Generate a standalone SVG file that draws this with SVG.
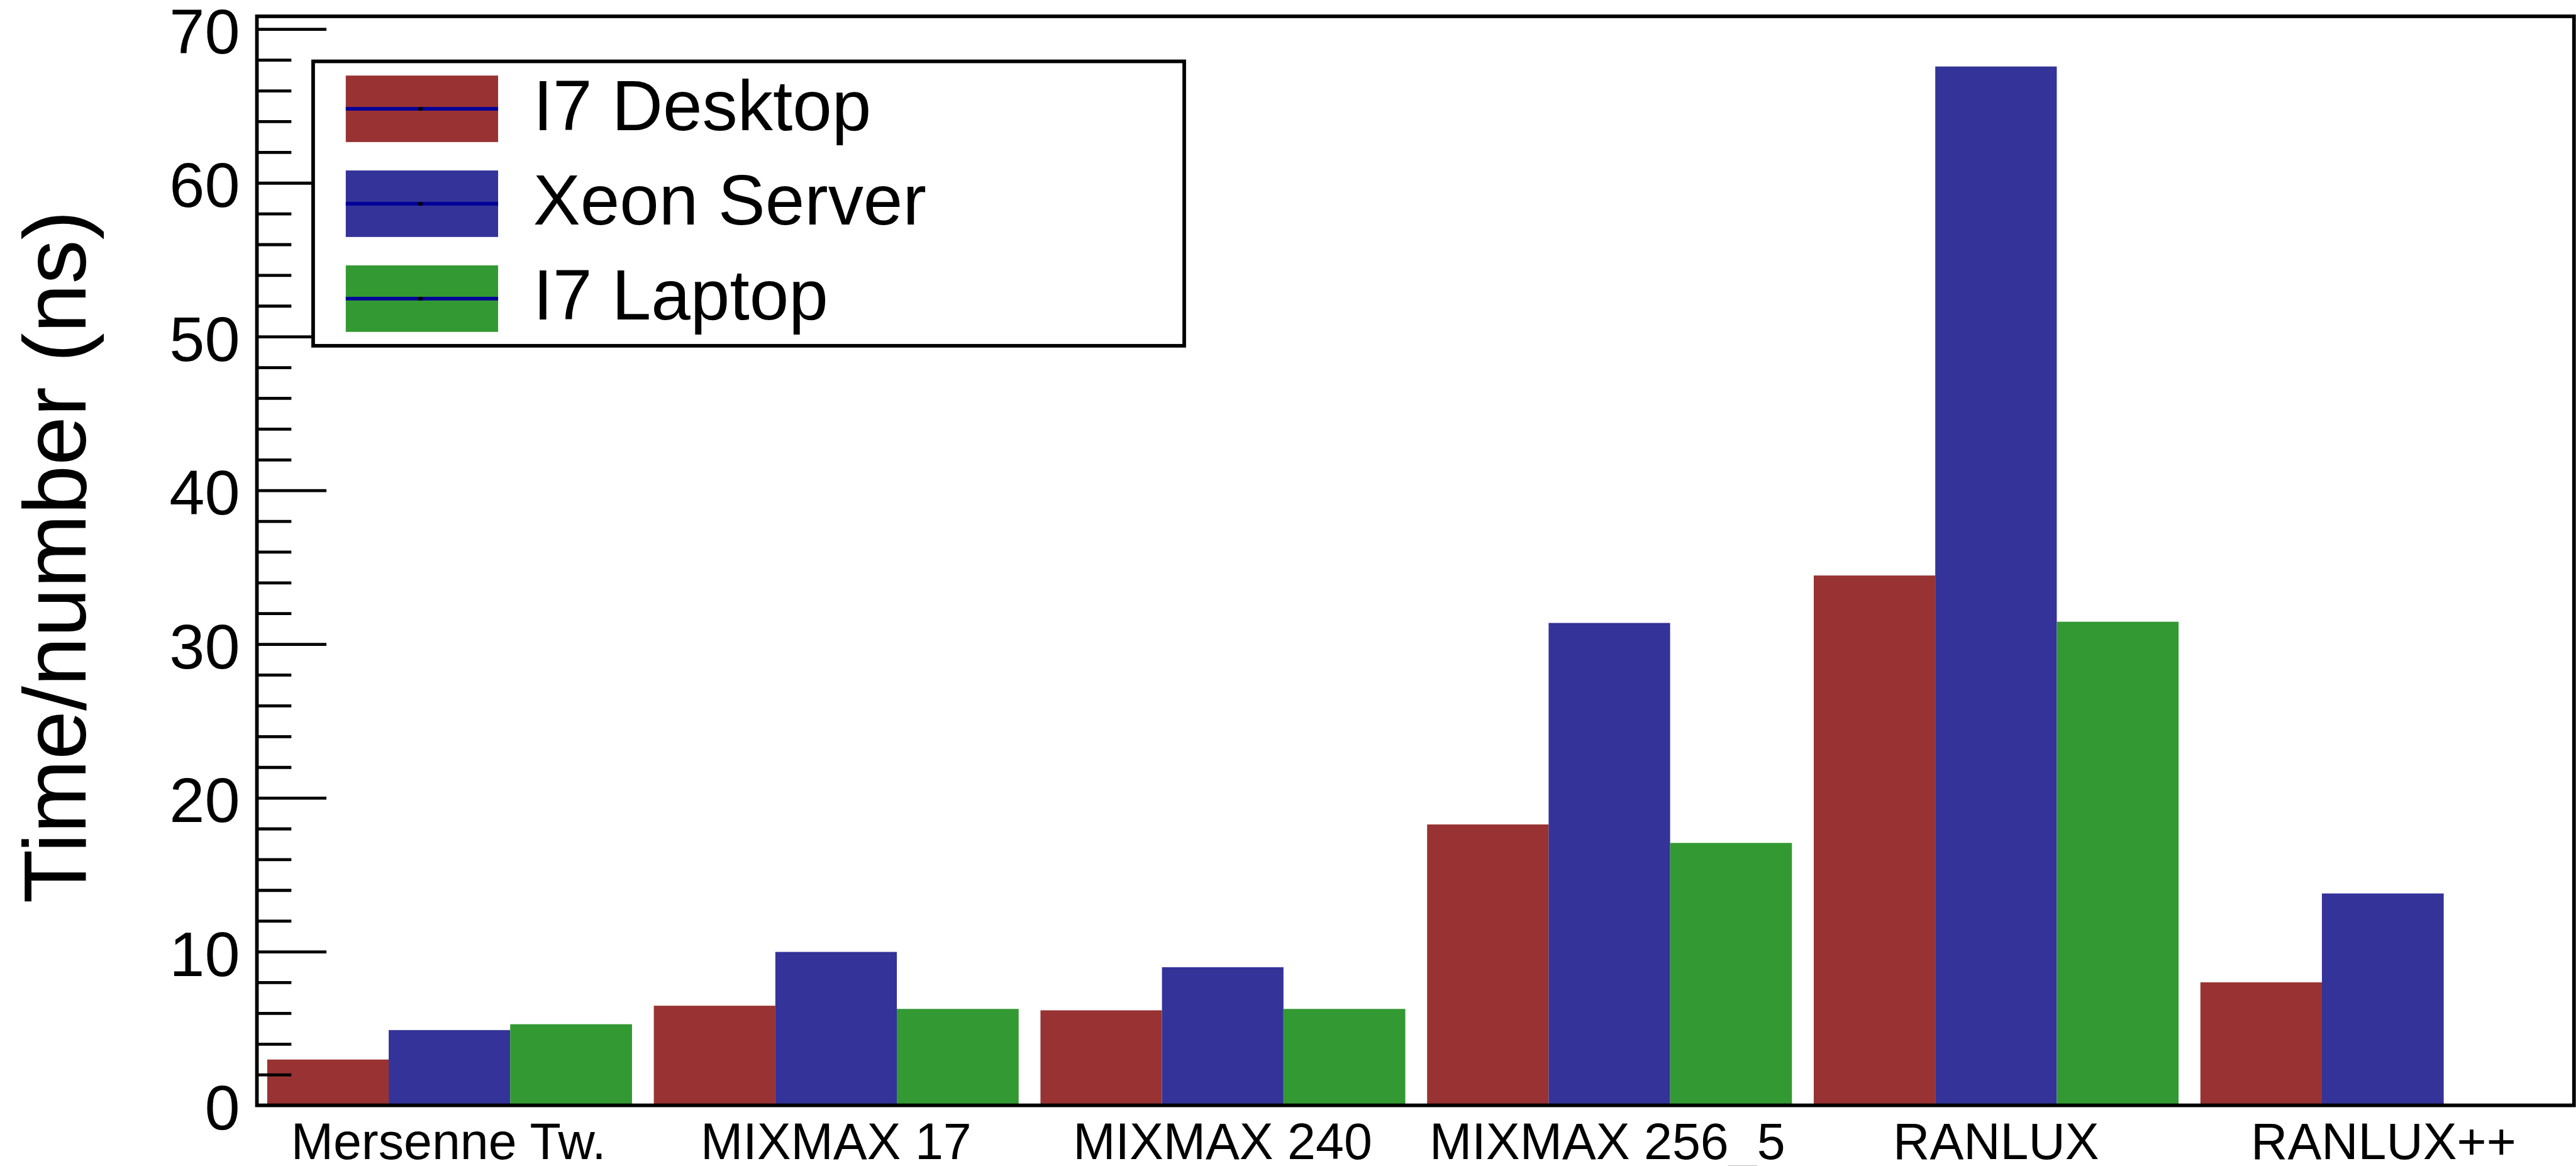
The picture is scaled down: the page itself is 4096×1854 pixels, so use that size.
<svg xmlns="http://www.w3.org/2000/svg" width="4096" height="1854" viewBox="0 0 4096 1854">
<style>
text{font-family:"Liberation Sans",Arial,Helvetica,sans-serif;fill:#000}
.r{fill:#993333}.b{fill:#333399}.g{fill:#339933}
.tick{stroke:#000;stroke-width:5;fill:none}
.ylab{font-size:105px;text-anchor:end}
.xlab{font-size:84px;text-anchor:middle}
.leg{font-size:117px}
.ll{fill:#000099}
</style>
<rect width="4096" height="1854" fill="#fff"/>
<g transform="scale(0.9612)">
<g id="bars">
<g id="mersenne"><rect class="r" x="442" y="1752.7" width="201" height="76"/><rect class="b" x="643" y="1704" width="201" height="125"/><rect class="g" x="844" y="1694.3" width="201.5" height="135"/></g>
<g id="mixmax17"><rect class="r" x="1081.6" y="1663.7" width="201" height="166"/><rect class="b" x="1282.6" y="1574.7" width="201" height="255"/><rect class="g" x="1483.6" y="1669" width="201.5" height="160"/></g>
<g id="mixmax240"><rect class="r" x="1721.2" y="1671.3" width="201" height="158"/><rect class="b" x="1922.2" y="1600" width="201" height="229"/><rect class="g" x="2123.2" y="1669" width="201.5" height="160"/></g>
<g id="mixmax256"><rect class="r" x="2360.8" y="1363.8" width="201" height="466"/><rect class="b" x="2561.8" y="1030.5" width="201" height="799"/><rect class="g" x="2762.8" y="1394.4" width="201.5" height="435"/></g>
<g id="ranlux"><rect class="r" x="3000.4" y="952" width="201" height="877"/><rect class="b" x="3201.4" y="110" width="201" height="1719"/><rect class="g" x="3402.4" y="1028.5" width="201.5" height="801"/></g>
<g id="ranluxpp"><rect class="r" x="3640" y="1625" width="201" height="204"/><rect class="b" x="3841" y="1478" width="201.5" height="351"/></g>
</g>
<g id="axes">
<path class="tick" d="M424 1778.1h58M424 1727.3h58M424 1676.4h58M424 1625.5h58M424 1523.8h58M424 1472.9h58M424 1422.1h58M424 1371.2h58M424 1269.5h58M424 1218.6h58M424 1167.7h58M424 1116.8h58M424 1015.1h58M424 964.2h58M424 913.4h58M424 862.5h58M424 760.8h58M424 709.9h58M424 659h58M424 608.2h58M424 506.4h58M424 455.6h58M424 404.7h58M424 353.8h58M424 252.1h58M424 201.2h58M424 150.4h58M424 99.5h58"/>
<path class="tick" d="M424 1574.7h116M424 1320.3h116M424 1066h116M424 811.6h116M424 557.3h116M424 303h116M424 48.6h116"/>
<rect x="425" y="27" width="3833" height="1801.5" fill="none" stroke="#000" stroke-width="6"/>
<g id="ylabels">
<text class="ylab" x="397" y="1868.5">0</text>
<text class="ylab" x="397" y="1614.2">10</text>
<text class="ylab" x="397" y="1359.8">20</text>
<text class="ylab" x="397" y="1105.5">30</text>
<text class="ylab" x="397" y="851.1">40</text>
<text class="ylab" x="397" y="596.8">50</text>
<text class="ylab" x="397" y="342.5">60</text>
<text class="ylab" x="397" y="88.1">70</text>
</g>
<g id="xlabels">
<text class="xlab" x="742" y="1917">Mersenne Tw.</text>
<text class="xlab" x="1383" y="1917">MIXMAX 17</text>
<text class="xlab" x="2022.5" y="1917">MIXMAX 240</text>
<text class="xlab" x="2659" y="1917">MIXMAX 256_5</text>
<text class="xlab" x="3302" y="1917">RANLUX</text>
<text class="xlab" x="3943" y="1917">RANLUX++</text>
</g>
<text id="ytitle" transform="translate(142,348) rotate(-90)" font-size="146" text-anchor="end">Time/number (ns)</text>
</g>
<g id="legend">
<rect x="518" y="101.5" width="1441" height="470.5" fill="#fff" stroke="#000" stroke-width="6"/>
<g id="leg-desktop"><rect class="r" x="572" y="125" width="252" height="110"/><rect class="ll" x="572" y="177" width="252" height="6"/><rect x="692" y="177" width="7" height="6" fill="#000"/><text class="leg" x="882" y="215.5">I7 Desktop</text></g>
<g id="leg-xeon"><rect class="b" x="572" y="282" width="252" height="110"/><rect class="ll" x="572" y="334" width="252" height="6"/><rect x="692" y="334" width="7" height="6" fill="#000"/><text class="leg" x="882" y="371.7">Xeon Server</text></g>
<g id="leg-laptop"><rect class="g" x="572" y="439" width="252" height="110"/><rect class="ll" x="572" y="491" width="252" height="6"/><rect x="692" y="491" width="7" height="6" fill="#000"/><text class="leg" x="882" y="528.7">I7 Laptop</text></g>
</g>
</g>
</svg>
